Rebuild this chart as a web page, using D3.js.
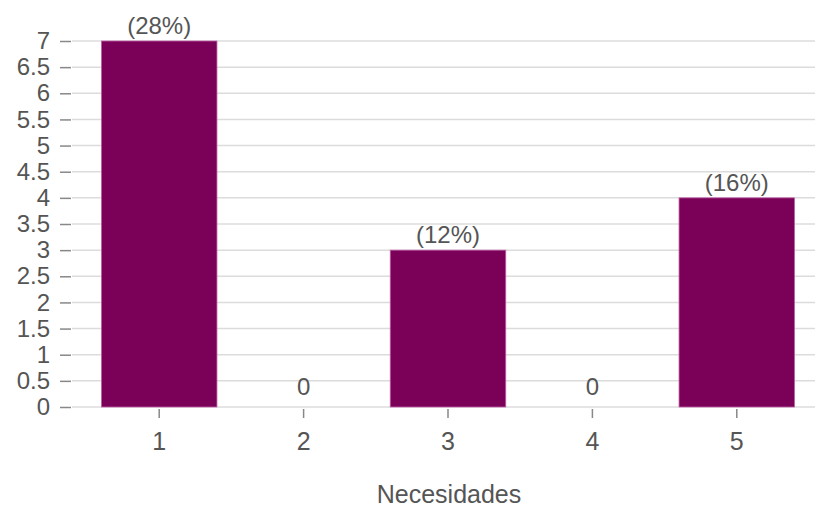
<!DOCTYPE html>
<html><head><meta charset="utf-8">
<script src="https://cdn.jsdelivr.net/npm/d3@7"></script>
<style>body{margin:0;background:#fff}svg{display:block}</style>
</head><body>
<script>
const categories = ["1","2","3","4","5"];
const values = [7, 0, 3, 0, 4];
const labels = ["(28%)", "0", "(12%)", "0", "(16%)"];
const yTicks = [0,0.5,1,1.5,2,2.5,3,3.5,4,4.5,5,5.5,6,6.5,7];
const xTitle = "Necesidades";

const W = 815, H = 507;
const svg = d3.select("body").append("svg").attr("width", W).attr("height", H);
const font = "Arial, 'Liberation Sans', sans-serif";
const txt = "#555";

const y = d3.scaleLinear().domain([0, 7]).range([407, 41]);
const x = d3.scaleBand().domain(categories).range([87, 809]).paddingInner(0.2).paddingOuter(0.1);

// grid
svg.append("g").selectAll("line").data(yTicks).join("line")
  .attr("x1", 72).attr("x2", W).attr("y1", d => y(d)).attr("y2", d => y(d))
  .attr("stroke", "#dcdcdc").attr("stroke-width", 1.5);

// y axis
const ya = svg.append("g").attr("transform", "translate(71,0)")
  .call(d3.axisLeft(y).tickValues(yTicks).tickSize(11).tickPadding(10).tickFormat(d3.format("~g")));
ya.select(".domain").remove();
ya.selectAll("line").attr("stroke", "#888").attr("stroke-width", 1.5);
ya.selectAll("text").attr("fill", txt).style("font-family", font).style("font-size", "24px");

// bars
svg.append("g").selectAll("rect").data(values).join("rect")
  .attr("x", (d, i) => x(categories[i]))
  .attr("width", x.bandwidth())
  .attr("y", d => y(d))
  .attr("height", d => y(0) - y(d))
  .attr("fill", "#7b0158")
  .attr("stroke", "#c060a8").attr("stroke-width", 0.8);

// value labels
svg.append("g").selectAll("text").data(values).join("text")
  .attr("x", (d, i) => x(categories[i]) + x.bandwidth() / 2)
  .attr("y", d => y(d) - (d === 0 ? 12 : 7))
  .attr("text-anchor", "middle")
  .attr("fill", txt).style("font-family", font).style("font-size", "24px")
  .text((d, i) => labels[i]);

// x axis
const xa = svg.append("g").attr("transform", "translate(0,409)")
  .call(d3.axisBottom(x).tickSize(9).tickPadding(14));
xa.select(".domain").remove();
xa.selectAll("line").attr("stroke", "#888").attr("stroke-width", 1.5);
xa.selectAll("text").attr("fill", txt).style("font-family", font).style("font-size", "25px");

svg.append("text").attr("x", 449).attr("y", 503).attr("text-anchor", "middle")
  .attr("fill", txt).style("font-family", font).style("font-size", "25px").text(xTitle);
</script>
</body></html>
